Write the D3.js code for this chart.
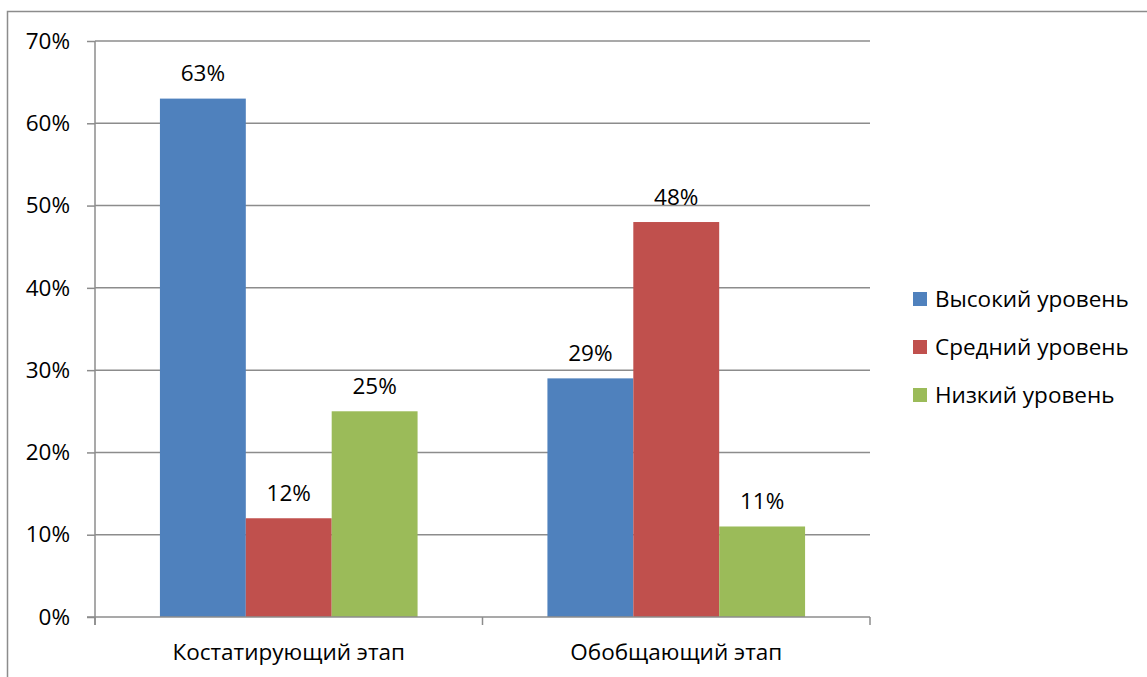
<!DOCTYPE html>
<html><head><meta charset="utf-8">
<script src="https://cdn.jsdelivr.net/npm/d3@7"></script>
<style>
html,body{margin:0;padding:0;background:#fff;}
text{font-family:"Open Sans","Noto Sans",sans-serif;fill:#000;}
</style></head>
<body><svg id="c" width="1147" height="677"></svg>
<script>
const categories = ["Костатирующий этап", "Обобщающий этап"];
const seriesNames = ["Высокий уровень", "Средний уровень", "Низкий уровень"];
const highValues = [63, 29];
const midValues = [12, 48];
const lowValues = [25, 11];
const yTicks = [0, 10, 20, 30, 40, 50, 60, 70];
const colors = ["#4f81bd", "#c0504d", "#9bbb59"];
const seriesValues = [highValues, midValues, lowValues];

const svg = d3.select("#c");
const fs = 22.5;
// outer frame
svg.append("path").attr("d","M7.5,680 V11.5 H1150").attr("fill","none").attr("stroke","#8c8c8c").attr("stroke-width",1.5);

const pLeft = 95, pRight = 870, pTop = 41, pBottom = 617;
const x0 = d3.scaleBand().domain(categories).range([pLeft, pRight]).paddingInner(0).paddingOuter(0);
const x1 = d3.scaleBand().domain(seriesNames).range([0, x0.bandwidth()]).paddingInner(0).paddingOuter(0.756);
const y = d3.scaleLinear().domain([0, 70]).range([pBottom, pTop]);

// gridlines
svg.append("g").selectAll("line").data(yTicks.filter(d=>d>0)).join("line")
  .attr("x1", pLeft).attr("x2", pRight).attr("y1", d=>y(d)).attr("y2", d=>y(d))
  .attr("stroke","#8c8c8c").attr("stroke-width",1.5);

// bars
const g = svg.append("g");
categories.forEach((c, ci) => {
  seriesNames.forEach((s, si) => {
    const v = seriesValues[si][ci];
    g.append("rect").attr("x", x0(c) + x1(s)).attr("width", x1.bandwidth())
      .attr("y", y(v)).attr("height", y(0) - y(v)).attr("fill", colors[si]);
    svg.append("text").attr("x", x0(c) + x1(s) + x1.bandwidth()/2).attr("y", y(v) - 17.5)
      .attr("text-anchor","middle").attr("font-size", fs).text(v + "%");
  });
});

// y axis
const yAxis = d3.axisLeft(y).tickValues(yTicks).tickFormat(d => d + "%").tickSize(8).tickPadding(17);
const ya = svg.append("g").attr("transform", `translate(${pLeft},0)`).call(yAxis);
ya.select(".domain").attr("d", `M0,${pTop}V${pBottom+8}`).attr("stroke","#8c8c8c").attr("stroke-width",1.5);
ya.selectAll(".tick line").attr("stroke","#8c8c8c").attr("stroke-width",1.5);
ya.selectAll(".tick text").attr("font-size", fs).attr("font-family",'"Open Sans",sans-serif').attr("fill","#000");

// x axis
const xa = svg.append("g").attr("transform", `translate(0,${pBottom})`);
xa.append("line").attr("x1", pLeft-8).attr("x2", pRight).attr("y1",0).attr("y2",0).attr("stroke","#8c8c8c").attr("stroke-width",1.5);
const bounds = [pLeft].concat(categories.map(c => x0(c) + x0.bandwidth()));
xa.selectAll("line.t").data(bounds).join("line").attr("class","t")
  .attr("x1", d=>d).attr("x2", d=>d).attr("y1",0).attr("y2",8).attr("stroke","#8c8c8c").attr("stroke-width",1.5);
xa.selectAll("text").data(categories).join("text")
  .attr("x", d => x0(d) + x0.bandwidth()/2).attr("y", 42.5).attr("text-anchor","middle")
  .attr("font-size", fs).text(d=>d);

// legend
const lg = svg.append("g").attr("transform","translate(913,307)");
seriesNames.forEach((s, i) => {
  lg.append("rect").attr("x",0).attr("y", i*48 - 15).attr("width",14).attr("height",14).attr("fill", colors[i]);
  lg.append("text").attr("x", 22).attr("y", i*48).attr("font-size", fs).text(s);
});
</script></body></html>
